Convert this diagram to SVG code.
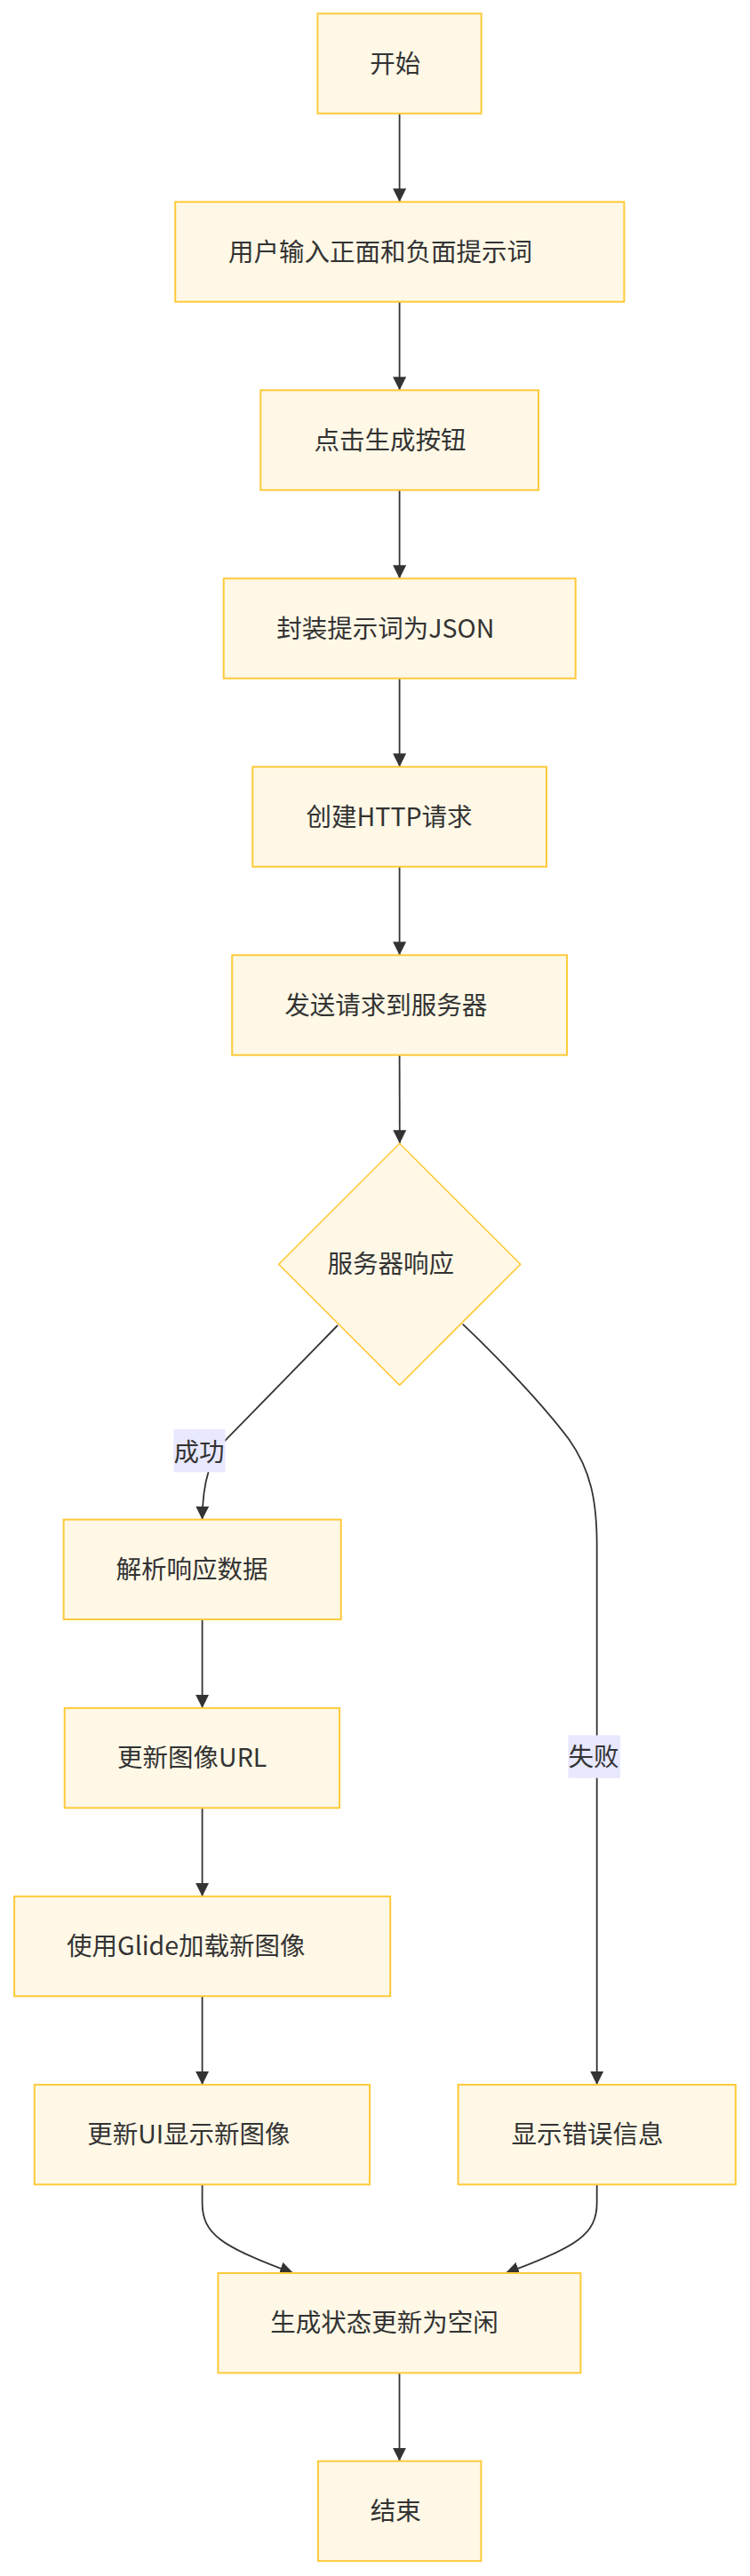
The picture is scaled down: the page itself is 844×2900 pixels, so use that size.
<svg xmlns="http://www.w3.org/2000/svg" width="844" height="2900" viewBox="0 0 844 2900">
<defs>
<style>
.node rect, .node polygon { fill: #FFF8E6; stroke: #FFCA3A; stroke-width: 2; }
.node polygon { stroke-width: 1.6; }
.node text, .label text { font-family: "Noto Sans CJK SC", "Noto Sans", sans-serif; font-size: 28.5px; fill: #333333; }
.edge { fill: none; stroke: #333333; stroke-width: 1.8; marker-end: url(#arrow); }
.label rect { fill: #E8E8FF; stroke: none; }
</style>
<marker id="arrow" viewBox="0 0 10 10" refX="10" refY="5" markerUnits="userSpaceOnUse" markerWidth="15" markerHeight="15" orient="auto">
<path d="M0,0 L10,5 L0,10 z" fill="#333333"/>
</marker>
</defs>
<rect x="0" y="0" width="844" height="2900" fill="#FFFFFF"/>
<g id="edges">
<path class="edge" d="M449.6,127.7 L449.6,227.3"/>
<path class="edge" d="M449.6,339.7 L449.6,439.3"/>
<path class="edge" d="M449.6,551.7 L449.6,651.3"/>
<path class="edge" d="M449.6,763.7 L449.6,863.3"/>
<path class="edge" d="M449.6,975.7 L449.6,1075.3"/>
<path class="edge" d="M449.6,1187.7 L449.8,1287.3"/>
<path class="edge" d="M380,1492 C340,1533 296,1578 253,1622 C238,1640 228,1665 227.6,1710.7"/>
<path class="edge" d="M520.7,1490.7 C560,1528 610,1580 640,1620 C665,1655 671.7,1690 671.7,1740 L671.7,2346.9"/>
<path class="edge" d="M227.6,1823.1 L227.6,1922.9"/>
<path class="edge" d="M227.6,2035.3 L227.6,2134.9"/>
<path class="edge" d="M227.6,2247.3 L227.6,2346.9"/>
<path class="edge" d="M227.6,2459.3 L227.6,2480 C227.6,2515 250,2530 330,2559"/>
<path class="edge" d="M671.7,2459.3 L671.7,2480 C671.7,2515 649,2530 569,2559"/>
<path class="edge" d="M449.5,2671.4 L449.5,2770.7"/>
</g>
<g id="label-success" class="label">
<rect x="195.4" y="1609" width="58.1" height="48.3"/>
<text x="195.5" y="1645.3">成功</text>
</g>
<g id="label-fail" class="label">
<rect x="639.4" y="1953.5" width="58.7" height="48.2"/>
<text x="639.5" y="1988.4">失败</text>
</g>
<g id="n-start" class="node">
<rect x="357.4" y="15.3" width="184.2" height="112.4"/>
<text x="416.2" y="81.5">开始</text>
</g>
<g id="n-input" class="node">
<rect x="197.2" y="227.3" width="505.2" height="112.4"/>
<text x="257.1" y="293.5">用户输入正面和负面提示词</text>
</g>
<g id="n-click" class="node">
<rect x="293.3" y="439.3" width="312.7" height="112.4"/>
<text x="353.6" y="505.5">点击生成按钮</text>
</g>
<g id="n-json" class="node">
<rect x="251.7" y="651.3" width="396" height="112.4"/>
<text x="311.3" y="717.5">封装提示词为JSON</text>
</g>
<g id="n-http" class="node">
<rect x="284.3" y="863.3" width="330.7" height="112.4"/>
<text x="344.6" y="929.5">创建HTTP请求</text>
</g>
<g id="n-send" class="node">
<rect x="261.2" y="1075.3" width="376.8" height="112.4"/>
<text x="320.3" y="1141.5">发送请求到服务器</text>
</g>
<g id="n-resp" class="node">
<polygon points="449.7,1287.3 585.7,1423.3 449.7,1559.3 313.7,1423.3"/>
<text x="368.6" y="1433.3">服务器响应</text>
</g>
<g id="n-parse" class="node">
<rect x="71.6" y="1710.7" width="312.1" height="112.4"/>
<text x="130.5" y="1776.9">解析响应数据</text>
</g>
<g id="n-url" class="node">
<rect x="72.7" y="1922.9" width="309.4" height="112.4"/>
<text x="132.1" y="1989">更新图像URL</text>
</g>
<g id="n-glide" class="node">
<rect x="16.1" y="2134.9" width="423.1" height="112.4"/>
<text x="75" y="2201">使用Glide加载新图像</text>
</g>
<g id="n-ui" class="node">
<rect x="38.8" y="2346.9" width="377.2" height="112.4"/>
<text x="98.2" y="2413">更新UI显示新图像</text>
</g>
<g id="n-error" class="node">
<rect x="515.6" y="2346.9" width="312.2" height="112.4"/>
<text x="575.6" y="2413">显示错误信息</text>
</g>
<g id="n-idle" class="node">
<rect x="245.4" y="2559" width="408" height="112.4"/>
<text x="304.3" y="2625">生成状态更新为空闲</text>
</g>
<g id="n-end" class="node">
<rect x="357.9" y="2770.7" width="183.5" height="112.4"/>
<text x="416.8" y="2837">结束</text>
</g>
</svg>
